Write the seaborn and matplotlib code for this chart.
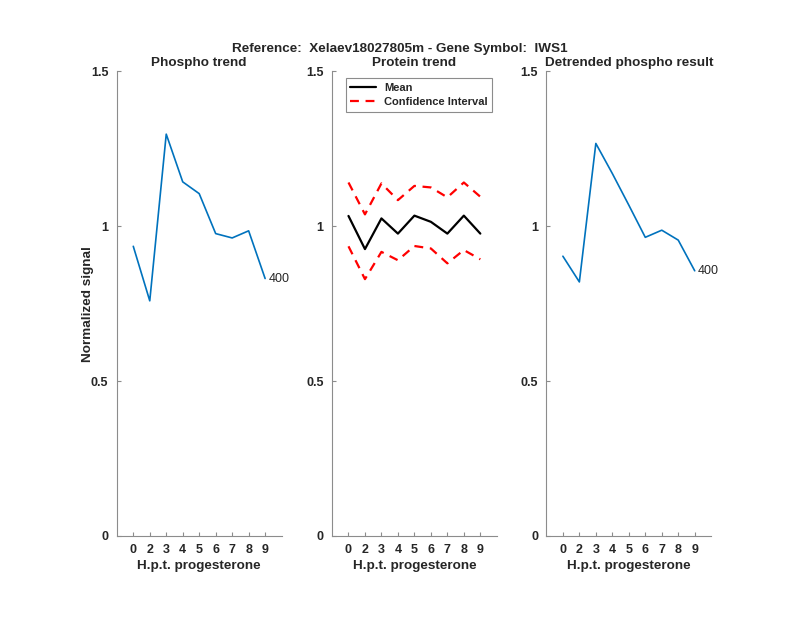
import numpy as np
import matplotlib
matplotlib.use("Agg")
import matplotlib.pyplot as plt
import seaborn as sns

# ─────────────────────────────────────────────
# DATA
# ─────────────────────────────────────────────
hours = ["0", "2", "3", "4", "5", "6", "7", "8", "9"]

phospho = [0.935, 0.759, 1.297, 1.143, 1.105, 0.976, 0.962, 0.985, 0.831]

protein_mean = [1.033, 0.926, 1.025, 0.976, 1.034, 1.014, 0.976, 1.034, 0.976]
protein_upper = [1.141, 1.038, 1.138, 1.084, 1.130, 1.125, 1.093, 1.141, 1.095]
protein_lower = [0.935, 0.829, 0.917, 0.890, 0.936, 0.928, 0.880, 0.923, 0.893]

detrended = [0.903, 0.820, 1.267, 1.170, 1.068, 0.964, 0.987, 0.955, 0.856]

end_label = "400"
y_ticks = [0, 0.5, 1, 1.5]
y_ticklabels = ["0", "0.5", "1", "1.5"]

# ─────────────────────────────────────────────
# STYLE
# ─────────────────────────────────────────────
sns.set_theme(style="ticks")
plt.rcParams['font.family'] = ['Liberation Sans', 'DejaVu Sans']

BLUE = "#0072BD"
AXIS_GREY = "#8c8c8c"
TEXT = "#262626"
FS = 9.7

x = np.arange(1, len(hours) + 1)

fig = plt.figure(figsize=(8, 6.18), dpi=100)
lefts = [0.146, 0.415, 0.683]
axes = [fig.add_axes([l, 0.1327, 0.206, 0.752]) for l in lefts]


def style_axis(ax, title):
    ax.set_xlim(0, 10)
    ax.set_ylim(0, 1.5)
    ax.set_xticks(x)
    ax.set_xticklabels(hours)
    ax.set_yticks(y_ticks)
    ax.set_yticklabels(y_ticklabels)
    for side in ["top", "right"]:
        ax.spines[side].set_visible(False)
    for side in ["left", "bottom"]:
        ax.spines[side].set_color(AXIS_GREY)
        ax.spines[side].set_linewidth(0.8)
    ax.tick_params(direction="in", length=3, width=0.8, color=AXIS_GREY,
                   labelsize=9, labelcolor=TEXT, pad=6)
    for lab in ax.get_xticklabels() + ax.get_yticklabels():
        lab.set_fontweight("bold")
    ax.set_title(title, fontsize=FS, fontweight="bold", color=TEXT, pad=4)
    ax.set_xlabel("H.p.t. progesterone", fontsize=FS, fontweight="bold",
                  color=TEXT, labelpad=3)
    ax.set_ylabel("")


# Phospho trend
ax = axes[0]
sns.lineplot(x=x, y=phospho, ax=ax, color=BLUE, linewidth=1.2)
ax.text(x[-1] + 0.2, phospho[-1], end_label, fontsize=9, color=TEXT,
        va="center", ha="left")
style_axis(ax, "Phospho trend")
ax.set_ylabel("Normalized signal", fontsize=FS, fontweight="bold", color=TEXT,
              labelpad=-2)

# Protein trend
ax = axes[1]
sns.lineplot(x=x, y=protein_mean, ax=ax, color="black", linewidth=1.6,
             label="Mean")
sns.lineplot(x=x, y=protein_upper, ax=ax, color="red", linewidth=1.6,
             linestyle=(0, (4, 3)), label="Confidence Interval")
sns.lineplot(x=x, y=protein_lower, ax=ax, color="red", linewidth=1.6,
             linestyle=(0, (4, 3)))
style_axis(ax, "Protein trend")
leg = ax.legend(loc="upper left", bbox_to_anchor=(0.085, 0.985), frameon=True,
                fancybox=False, edgecolor=AXIS_GREY, framealpha=1,
                borderpad=0.4, handlelength=2.3, handletextpad=0.7,
                labelspacing=0.4, borderaxespad=0,
                prop={"weight": "bold", "size": 8})
leg.get_frame().set_linewidth(0.8)

# Detrended phospho result
ax = axes[2]
sns.lineplot(x=x, y=detrended, ax=ax, color=BLUE, linewidth=1.2)
ax.text(x[-1] + 0.2, detrended[-1], end_label, fontsize=9, color=TEXT,
        va="center", ha="left")
style_axis(ax, "Detrended phospho result")

fig.suptitle("Reference:  Xelaev18027805m - Gene Symbol:  IWS1", fontsize=FS,
             fontweight="bold", color=TEXT, y=0.93)

fig.savefig("out.png", dpi=100, facecolor="white")
